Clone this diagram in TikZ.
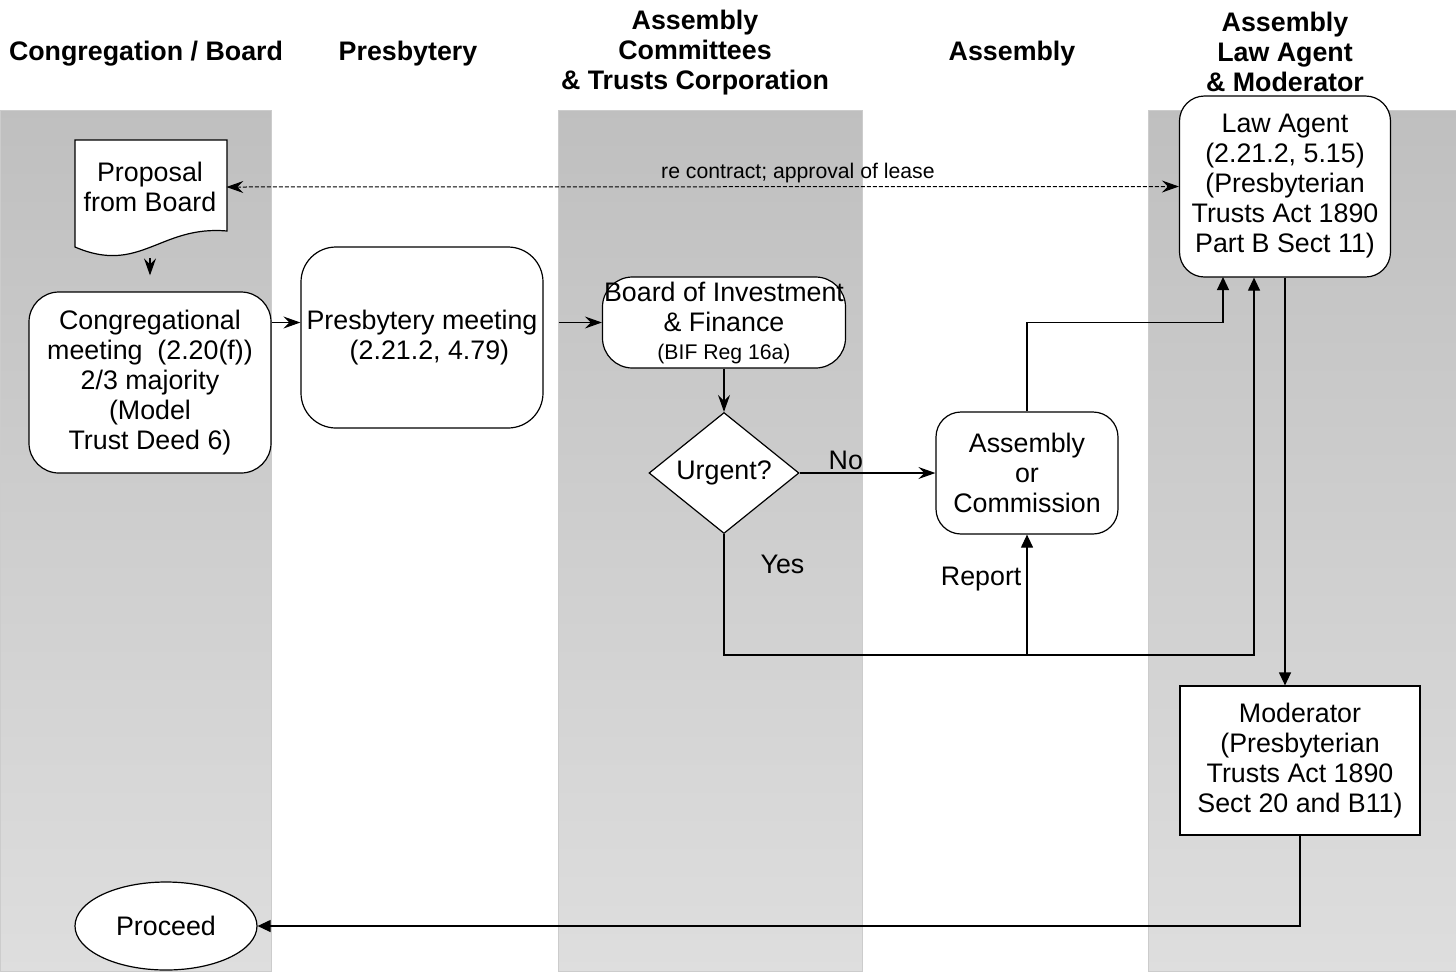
\documentclass[tikz,border=0pt]{standalone}
\usepackage{fontspec}
\setmainfont{Liberation Sans}
\usetikzlibrary{arrows.meta,shapes.geometric}

\definecolor{lanetop}{gray}{0.75}
\definecolor{lanebot}{gray}{0.87}
\definecolor{laneedge}{gray}{0.80}

\tikzset{
  every node/.style={font=\fontsize{13.4}{15}\selectfont, align=center, inner sep=0pt},
  lane/.style={top color=lanetop, bottom color=lanebot, draw=laneedge, line width=0.5pt},
  head/.style={font=\fontsize{13.4}{15}\selectfont\bfseries},
  box/.style={draw, fill=white, line width=0.6pt},
  flow/.style={-{Stealth[length=8.5pt,width=6pt,inset=3pt]}, line width=0.6pt},
  feed/.style={-{Triangle[length=6.5pt,width=6pt]}, line width=0.6pt},
  hint/.style={{Stealth[length=8.5pt,width=6pt,inset=3pt]}-{Stealth[length=8.5pt,width=6pt,inset=3pt]},
    dash pattern=on 2pt off 1pt, line width=0.5pt},
  tag/.style={font=\fontsize{10.6}{12}\selectfont},
}

\begin{document}
\begin{tikzpicture}[x=0.5pt, y=-0.5pt]
\useasboundingbox (0,0) rectangle (1456,971);

% swim lanes
\foreach \xa/\xb in {0/271, 558/862, 1148/1456}
  \draw[lane] (\xa,110) rectangle (\xb,971);

% lane headings
\node[head] (hcong) at (146,54) {Congregation / Board};
\node[head] (hpres) at (408,54) {Presbytery};
\node[head] (hcomm) at (695,53) {Assembly\\Committees\\\& Trusts Corporation};
\node[head] (hassm) at (1012,54) {Assembly};
\node[head] (hlaw) at (1285,52) {Assembly\\Law Agent\\\& Moderator};

% document shape
\draw[box] (75,140) -- (227,140) -- (227,231)
  .. controls (160,225) and (140,275) .. (75,247) -- cycle;
\node (prop) at (150,187) [minimum width=76pt, minimum height=44pt] {Proposal\\from Board};

\node[box, rounded corners=15pt, minimum width=121pt, minimum height=90.5pt] (cong) at (150,382.5)
  {Congregational\\meeting\ \ (2.20(f))\\2/3 majority\\(Model\\Trust Deed 6)};
\node[box, rounded corners=17.5pt, minimum width=121pt, minimum height=90.5pt] (pres) at (422,337.5)
  {Presbytery meeting\\\ \ (2.21.2, 4.79)};
\node[box, rounded corners=15pt, minimum width=121.5pt, minimum height=45.5pt] (bif) at (724,322.5)
  {Board of Investment\\\& Finance\\[-1pt]{\fontsize{10.6}{12}\selectfont(BIF Reg 16a)}};
\node[box, diamond, minimum width=75pt, minimum height=60.5pt] (urg) at (724,473) {Urgent?};
\node[box, rounded corners=12.5pt, minimum width=91pt, minimum height=61pt] (asm) at (1027,473)
  {Assembly\\or\\Commission};
\node[box, rounded corners=12.5pt, minimum width=105.5pt, minimum height=90.5pt] (law) at (1285,186.5)
  {Law Agent\\(2.21.2, 5.15)\\(Presbyterian\\Trusts Act 1890\\Part B Sect 11)};
\node[box, minimum width=120pt, minimum height=74.5pt] (mod) at (1300,760.5)
  {Moderator\\(Presbyterian\\Trusts Act 1890\\Sect 20 and B11)};
\node[box, ellipse, minimum width=91pt, minimum height=44pt] (proc) at (166,926) {Proceed};

\coordinate (yesend) at (1254,655);
\coordinate (lawin) at (1223,277);

% connectors
\draw[hint] (prop.east) -- node[tag, above=1.5pt, pos=0.6] {re contract; approval of lease} (law.west);
\draw[flow, shorten <=13.5pt, shorten >=8pt] (prop.south) -- (cong.north);
\draw[flow] (cong.east |- bif) -- (pres.west |- bif);
\draw[flow, shorten <=7.5pt] (pres.east |- bif) -- (bif.west);
\draw[flow] (bif) -- (urg);
\draw[flow] (urg) -- node[above=1.5pt, pos=0.34] {No} (asm);
\draw[feed] (urg.south) |- node[right=18pt, pos=0.125] {Yes} (yesend) -- (yesend |- law.south);
\draw[feed] (asm.south |- yesend) -- node[left=2.5pt, pos=0.63] {Report} (asm.south);
\draw[feed] (asm.north) |- (lawin |- bif) -- (lawin);
\draw[feed] (law.south) -- (law.south |- mod.north);
\draw[feed] (mod.south) |- (proc.east);
\end{tikzpicture}
\end{document}
